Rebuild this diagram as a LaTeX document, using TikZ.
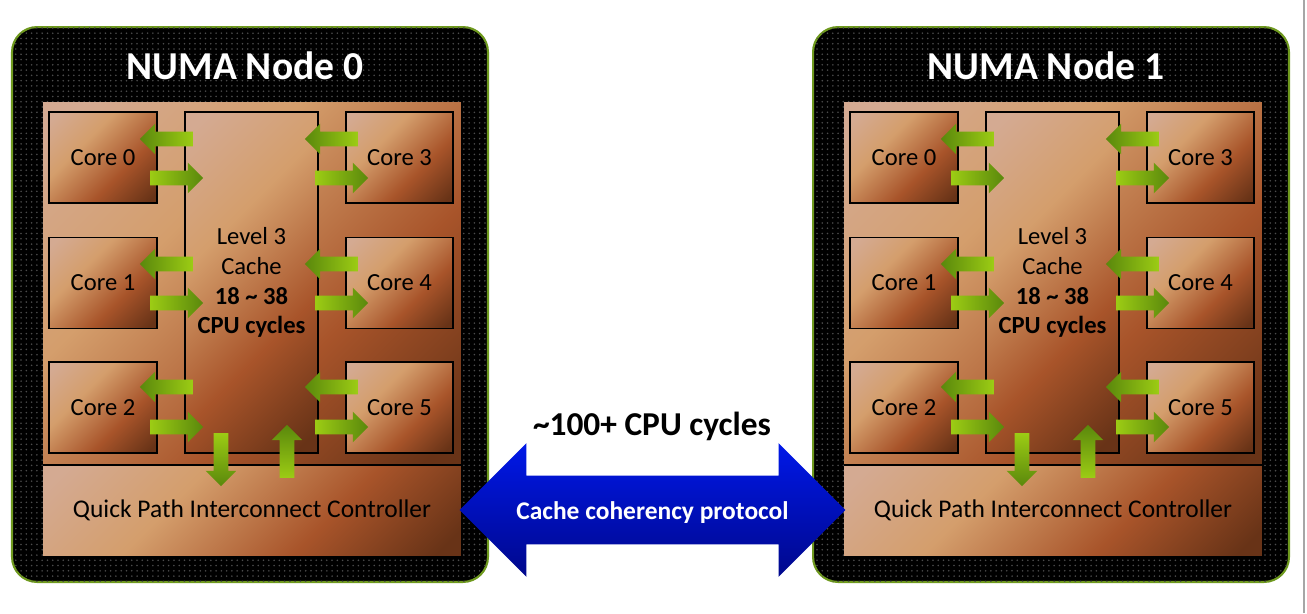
\documentclass[tikz,border=0pt]{standalone}
\usepackage{fontspec}
\setmainfont{Carlito}
\usetikzlibrary{calc,shapes.arrows,patterns}

\definecolor{copA}{HTML}{D4AA92}
\definecolor{copB}{HTML}{D49E6C}
\definecolor{copC}{HTML}{A8542A}
\definecolor{copD}{HTML}{683317}
\definecolor{leafLight}{HTML}{9CCC14}
\definecolor{leafDark}{HTML}{5A880C}
\definecolor{frameGreen}{HTML}{6F9A1E}
\definecolor{linkTop}{HTML}{0018E8}
\definecolor{linkBottom}{HTML}{00088C}

% diagonal copper look of the chip parts
\pgfdeclarehorizontalshading{copper}{100bp}{color(0bp)=(copA); color(18bp)=(copA);
  color(38bp)=(copB); color(62bp)=(copC); color(82bp)=(copD); color(100bp)=(copD)}

\tikzset{
  numabox/.style={ % black frame of one NUMA node
    draw=frameGreen, line width=1.2pt, rounded corners=0.5cm, fill=black,
    postaction={pattern=dots, pattern color=black!70!white},
    minimum width=9.52cm, minimum height=11.1cm
  },
  chip/.style={shading=copper, shading angle=-45, inner sep=0pt,
    minimum width=8.36cm, minimum height=7.26cm},
  corebox/.style={ % one core, also used for the cache
    draw, line width=1.1pt, shading=copper, shading angle=-45,
    minimum width=2.15cm, minimum height=1.82cm,
    font=\fontsize{14}{17}\selectfont
  },
  cachebox/.style={corebox, minimum width=2.66cm, minimum height=6.82cm, align=center},
  qpibox/.style={shading=copper, shading angle=-45, inner sep=0pt,
    minimum width=8.36cm, minimum height=1.8cm, font=\fontsize{14.5}{17}\selectfont},
  title/.style={text=white, font=\fontsize{22.5}{27}\selectfont\bfseries},
  flow/.style={ % small green block arrow
    single arrow, single arrow head extend=0.16cm, inner sep=0.14cm,
    minimum height=1.06cm
  },
  toleft/.style={flow, shape border rotate=180, left color=leafDark, right color=leafLight},
  toright/.style={flow, left color=leafLight, right color=leafDark},
  todown/.style={flow, shape border rotate=270, top color=leafLight, bottom color=leafDark},
  toup/.style={flow, shape border rotate=90, top color=leafDark, bottom color=leafLight},
  coherency/.style={ % big blue link between the two nodes
    double arrow, double arrow head extend=0.65cm,
    inner xsep=0pt, inner ysep=0.469cm, text height=11.25pt, text depth=0.75pt,
    minimum height=7.72cm,
    top color=linkTop, bottom color=linkBottom,
    text=white, font=\fontsize{14.5}{17}\selectfont\bfseries
  }
}

\begin{document}
\begin{tikzpicture}[x=0.02cm, y=-0.02cm]
  \useasboundingbox (0,0) rectangle (1307,613);

  \foreach \n/\dx in {0/0,1/801}{
    \begin{scope}[shift={(\dx,0)}]
      \node[numabox] (numa\n) at (250,304.5) {};
      \node[title] (title\n) at (245,66) {NUMA Node \n};
      \node[chip] (chip\n) at (252,283.5) {};
      \node[qpibox] (qpi\n) at (252,510) {Quick Path Interconnect Controller};
      \draw[line width=1.1pt] (qpi\n.north west) -- (qpi\n.north east);
      \node[cachebox] (cache\n) at (251.5,282.5)
        {Level 3\\Cache\\\textbf{18 \textasciitilde{} 38}\\\textbf{CPU cycles}};
      \foreach \r/\yc/\yl/\yr in {0/157.5/139/178, 1/283/264/303, 2/407.5/387/427}{
        \pgfmathtruncatemacro\rr{\r+3}
        \node[corebox] (core\n-\r) at (103,\yc) {Core \r};
        \node[corebox] (core\n-\rr) at (399.5,\yc) {Core \rr};
        \node[toleft] (rd\n-\r) at (170,\yl) {};
        \node[toright] (wr\n-\r) at (173,\yr) {};
        \node[toleft] (rd\n-\rr) at (335,\yl) {};
        \node[toright] (wr\n-\rr) at (338,\yr) {};
      }
      \node[todown] (out\n) at (221,456) {};
      \node[toup] (in\n) at (287,455) {};
    \end{scope}
  }

  \node[coherency] (link) at ($(qpi0.east)!0.5!(qpi1.west)$) {Cache coherency protocol};
  \node[anchor=base, font=\fontsize{19}{23}\selectfont\bfseries] (latency) at (652,435)
    {\textasciitilde100+ CPU cycles};

  \draw[gray!70, line width=0.8pt] (1304,0) -- (1304,613);
\end{tikzpicture}
\end{document}
